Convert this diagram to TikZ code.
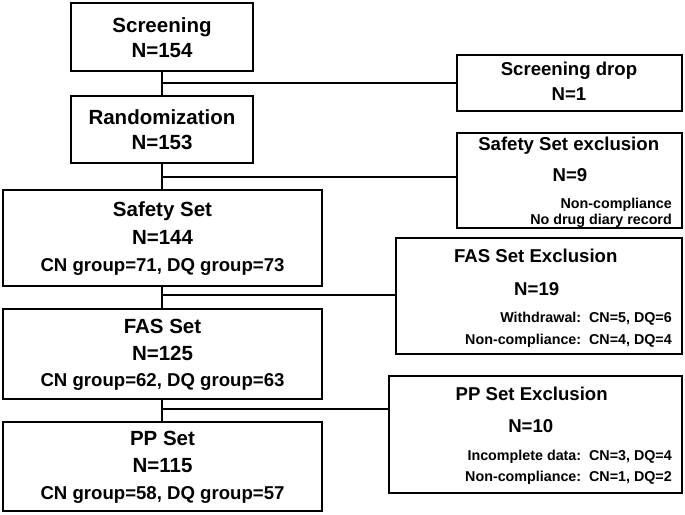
\documentclass[tikz,border=0pt]{standalone}
\usepackage{fontspec}
\setmainfont{Liberation Sans}
\begin{document}
\begin{tikzpicture}[x=1pt,y=-1pt,
  box/.style={draw=black, line width=2.6pt, inner sep=0pt, outer sep=0pt},
  conn/.style={draw=black, line width=2pt},
  ttl/.style={inner sep=0pt, anchor=base, font=\fontsize{20.5}{24}\selectfont\bfseries},
  sub/.style={inner sep=0pt, anchor=base, font=\fontsize{18.6}{22}\selectfont\bfseries},
  sml/.style={inner sep=0pt, anchor=base east, font=\fontsize{14.3}{17}\selectfont\bfseries}]
\useasboundingbox (0,0) rectangle (685,514);
% boxes
\node[box, minimum width=182pt, minimum height=68pt] (scr) at (162,37) {};
\node[box, minimum width=182pt, minimum height=67pt] (rand) at (162,129.5) {};
\node[box, minimum width=225pt, minimum height=56pt] (drop) at (569.5,83) {};
\node[box, minimum width=225pt, minimum height=95pt] (sexcl) at (569.5,180.5) {};
\node[box, minimum width=319pt, minimum height=96pt] (safety) at (162.5,238) {};
\node[box, minimum width=286pt, minimum height=116pt] (fexcl) at (539,296) {};
\node[box, minimum width=319pt, minimum height=90pt] (fas) at (162.5,354) {};
\node[box, minimum width=293pt, minimum height=117pt] (pexcl) at (535.5,434.5) {};
\node[box, minimum width=319pt, minimum height=89pt] (pp) at (162.5,466.5) {};
% texts
\node[ttl] (t1a) at (162,32.5) {Screening};
\node[ttl] (t1b) at (162,57.3) {N=154};
\node[ttl] (t2a) at (162,124) {Randomization};
\node[ttl] (t2b) at (162,149.3) {N=153};
\node[ttl] (t3a) at (162.5,216.7) {Safety Set};
\node[ttl] (t3b) at (162.5,244.3) {N=144};
\node[sub] (t3c) at (162.5,271) {CN group=71, DQ group=73};
\node[ttl] (t4a) at (162.5,333.3) {FAS Set};
\node[ttl] (t4b) at (162.5,360) {N=125};
\node[sub] (t4c) at (162.5,386.7) {CN group=62, DQ group=63};
\node[ttl] (t5a) at (162.5,445.7) {PP Set};
\node[ttl] (t5b) at (162.5,472.3) {N=115};
\node[sub] (t5c) at (162.5,499) {CN group=58, DQ group=57};
\node[sub] (d1) at (569,75) {Screening drop};
\node[sub] (d2) at (569,100.7) {N=1};
\node[sub] (s1) at (568.7,150) {Safety Set exclusion};
\node[sub] (s2) at (570,181.7) {N=9};
\node[sml] (s3) at (672,208.3) {Non-compliance};
\node[sml] (s4) at (672,224.3) {No drug diary record};
\node[sub] (f1) at (535.8,262.3) {FAS Set Exclusion};
\node[sub] (f2) at (536.7,295) {N=19};
\node[sml] (f3) at (672,322.3) {Withdrawal:\ \ CN=5, DQ=6};
\node[sml] (f4) at (672,344) {Non-compliance:\ \ CN=4, DQ=4};
\node[sub] (p1) at (531.7,400) {PP Set Exclusion};
\node[sub] (p2) at (530.8,432.3) {N=10};
\node[sml] (p3) at (672,460) {Incomplete data:\ \ CN=3, DQ=4};
\node[sml] (p4) at (672,481) {Non-compliance:\ \ CN=1, DQ=2};
% connectors
\draw[conn] (scr.south) -- (rand.north);
\draw[conn] (rand.south) -- (rand.south |- safety.north);
\draw[conn] (safety.south -| scr.south) -- (fas.north -| scr.south);
\draw[conn] (fas.south -| scr.south) -- (pp.north -| scr.south);
\coordinate (j1) at (162,83);
\coordinate (j2) at (162,177);
\coordinate (j3) at (162,295);
\coordinate (j4) at (162,409);
\draw[conn] (j1) -- (j1 -| drop.west);
\draw[conn] (j2) -- (j2 -| sexcl.west);
\draw[conn] (j3) -- (j3 -| fexcl.west);
\draw[conn] (j4) -- (j4 -| pexcl.west);
\end{tikzpicture}
\end{document}
